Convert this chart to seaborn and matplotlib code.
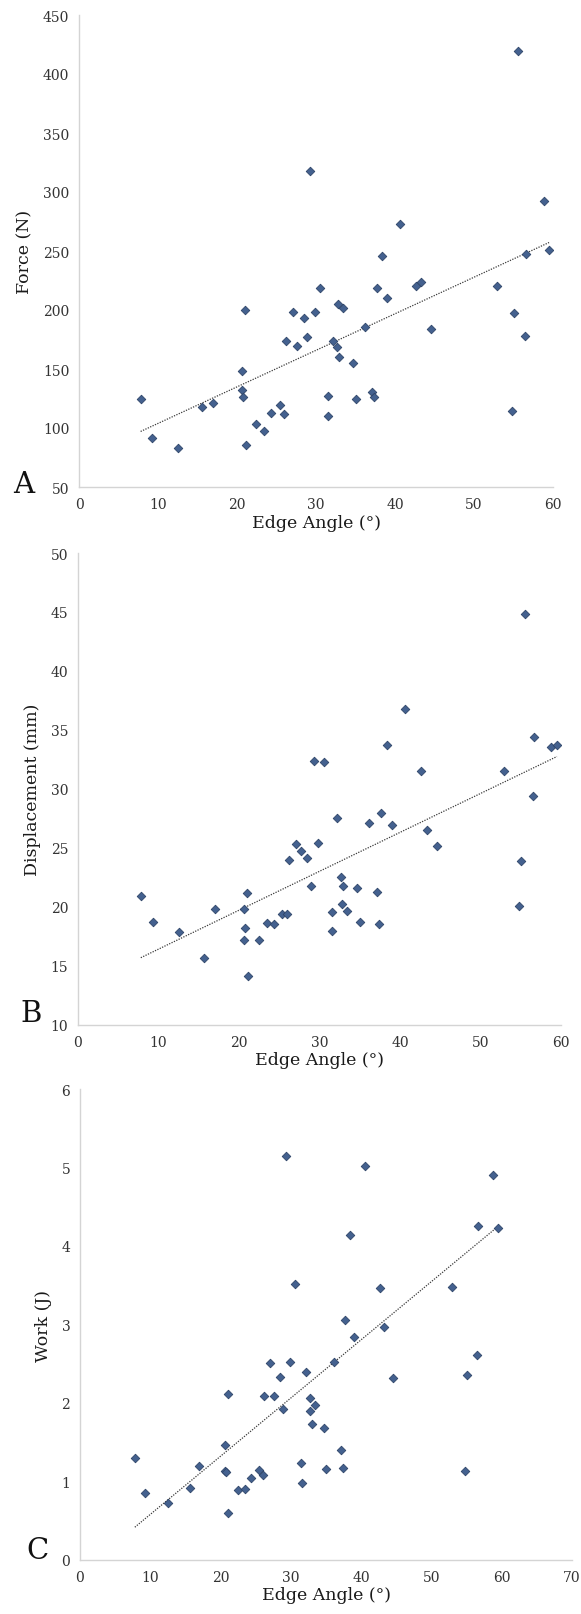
import numpy as np
import pandas as pd
import seaborn as sns
import matplotlib.pyplot as plt

# edge angle of each specimen (deg), shared by the three panels
angle = [7.8, 9.3, 12.5, 15.6, 17.0, 20.6, 20.67, 20.77, 21.05, 21.1,
         22.45, 23.45, 24.35, 25.4, 26.0, 26.15, 27.1, 27.65, 28.45, 28.9,
         29.3, 29.85, 30.55, 31.5, 31.55, 32.2, 32.68, 32.77, 32.95, 33.45,
         34.65, 35.05, 36.2, 37.1, 37.4, 37.67, 38.4, 39.0, 40.6, 42.67,
         43.3, 44.55, 52.9, 54.8, 55.03, 55.55, 56.46, 56.63, 58.8, 59.5]

force = [124.8, 91.2, 82.7, 117.7, 121.1, 148.5, 131.9, 125.9, 200.2, 85.8,
         103.6, 97.1, 112.7, 119.4, 112.1, 173.9, 198.2, 169.1, 193.4, 177.3,
         318.2, 198.2, 218.5, 127.1, 110.4, 173.9, 168.3, 205.5, 160.1, 201.3,
         155.0, 124.3, 185.3, 130.9, 126.3, 218.4, 245.8, 209.9, 273.2, 220.7,
         223.5, 184.2, 220.7, 114.1, 197.5, 419.7, 177.6, 247.2, 292.4, 250.6]

displacement = [20.93, 18.76, 17.84, 15.67, 19.80, 19.80, 17.22, 18.26, 21.15, 14.13,
                17.22, 18.65, 18.60, 19.38, 19.41, 24.02, 25.34, 24.78, 24.13, 21.74,
                32.40, 25.45, 32.32, 19.55, 17.95, 27.53, 22.58, 20.28, 21.77, 19.66,
                21.57, 18.76, 27.16, 21.26, 18.60, 28.00, 33.70, 26.94, 36.76, 31.50,
                26.52, 25.20, 31.56, 20.08, 23.90, 44.80, 29.43, 34.44, 33.60, 33.70]

# the 55.5 deg specimen (~9.4 J) sits above the top of panel C but is in the fit
work = [1.30, 0.855, 0.73, 0.92, 1.20, 1.46, 1.13, 1.12, 2.11, 0.60,
        0.89, 0.90, 1.04, 1.15, 1.08, 2.09, 2.51, 2.09, 2.33, 1.92,
        5.15, 2.52, 3.52, 1.23, 0.98, 2.39, 1.90, 2.07, 1.73, 1.97,
        1.68, 1.16, 2.52, 1.40, 1.17, 3.06, 4.14, 2.84, 5.02, 3.47,
        2.97, 2.32, 3.48, 1.14, 2.36, 9.4, 2.61, 4.25, 4.91, 4.23]

df = pd.DataFrame({'angle': angle, 'force': force,
                   'displacement': displacement, 'work': work})

sns.set_style('white')
plt.rcParams['font.family'] = ['DejaVu Serif']

W, H = 581, 1615
fig = plt.figure(figsize=(W / 100, H / 100), dpi=100)

def px_rect(x0, x1, ytop, ybot):
    return [x0 / W, 1 - ybot / H, (x1 - x0) / W, (ybot - ytop) / H]

# (column, ylabel, ylim, yticks, xmax, rect in px, letter, letter pos in px)
panels = [
    ('force', 'Force (N)', (50, 450), range(50, 451, 50), 60,
     px_rect(79, 553, 16, 488), 'A', (24, 493)),
    ('displacement', 'Displacement (mm)', (10, 50), range(10, 51, 5), 60,
     px_rect(78, 561, 554, 1026), 'B', (31, 1022)),
    ('work', 'Work (J)', (0, 6), range(0, 7), 70,
     px_rect(80, 572, 1090, 1561), 'C', (37, 1559)),
]

mk_color = '#44618f'
for col, ylab, ylim, yticks, xmax, rect, letter, lpos in panels:
    ax = fig.add_axes(rect)
    sns.regplot(data=df, x='angle', y=col, ax=ax, scatter=False, ci=None,
                truncate=True,
                line_kws=dict(color='#3a3a3a', lw=0.9, ls=(0, (1, 1.1))))
    sns.scatterplot(data=df, x='angle', y=col, ax=ax, marker='D', s=19,
                    color=mk_color, edgecolor='#2e4468', linewidth=0.6,
                    zorder=3)
    ax.set_xlim(0, xmax)
    ax.set_ylim(*ylim)
    ax.set_xticks(range(0, xmax + 1, 10))
    ax.set_yticks(list(yticks))
    sns.despine(ax=ax)
    for s in ('left', 'bottom'):
        ax.spines[s].set_color('#d4d4d4')
        ax.spines[s].set_linewidth(1.0)
    ax.tick_params(axis='both', length=4, width=0.8, color='#c8c8c8',
                   labelcolor='#333333', labelsize=10, pad=3)
    ax.set_xlabel('Edge Angle (°)', fontsize=12.5, color='#1a1a1a', labelpad=2)
    ax.set_ylabel(ylab, fontsize=12.5, color='#1a1a1a', labelpad=7)
    fig.text(lpos[0] / W, 1 - lpos[1] / H, letter, fontsize=21,
             ha='center', va='baseline', color='#111111')

fig.savefig('out.png', dpi=100, facecolor='white')
